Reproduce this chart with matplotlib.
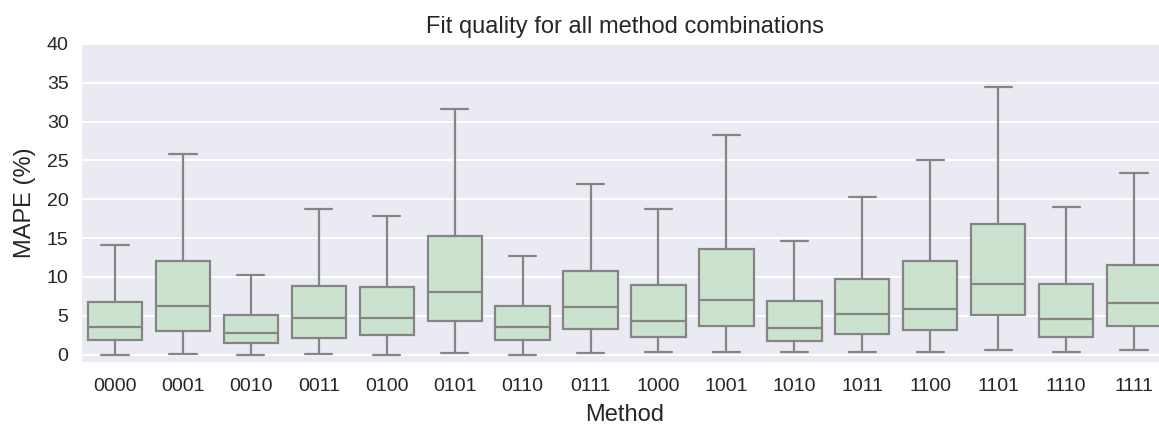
import matplotlib
matplotlib.use("Agg")
import matplotlib.pyplot as plt
import seaborn as sns

methods = ["0000", "0001", "0010", "0011", "0100", "0101", "0110", "0111",
           "1000", "1001", "1010", "1011", "1100", "1101", "1110", "1111"]

whisker_low = [0.0, 0.1, 0.0, 0.1, 0.0, 0.17, 0.0, 0.17,
               0.39, 0.39, 0.35, 0.35, 0.39, 0.64, 0.39, 0.64]
q1 = [1.9, 3.05, 1.47, 2.19, 2.57, 4.38, 1.89, 3.3,
      2.24, 3.73, 1.8, 2.7, 3.22, 5.15, 2.32, 3.73]
median = [3.5, 6.3, 2.75, 4.68, 4.76, 8.03, 3.52, 6.18,
          4.38, 7.08, 3.4, 5.28, 5.92, 9.1, 4.63, 6.6]
q3 = [6.8, 12.1, 5.07, 8.84, 8.7, 15.3, 6.27, 10.8,
      8.93, 13.64, 6.9, 9.74, 12.0, 16.8, 9.1, 11.55]
whisker_high = [14.1, 25.8, 10.3, 18.7, 17.9, 31.6, 12.7, 21.97,
                18.75, 28.3, 14.6, 20.3, 25.1, 34.4, 19.0, 23.35]

sns.set_style("darkgrid")
plt.rcParams["font.family"] = ["Liberation Sans", "DejaVu Sans"]

stats = []
for i in range(len(methods)):
    stats.append({"label": methods[i], "whislo": whisker_low[i], "q1": q1[i],
                  "med": median[i], "q3": q3[i], "whishi": whisker_high[i],
                  "fliers": []})

fig = plt.figure(figsize=(11.59, 4.25), dpi=100)
ax = fig.add_axes([0.0699, 0.1475, 0.9379, 0.749])

line = "#858585"
ax.bxp(stats, positions=range(len(methods)), widths=0.8, capwidths=0.4,
       patch_artist=True, showfliers=False,
       boxprops=dict(facecolor="#cbe2cf", edgecolor=line, linewidth=1.6),
       medianprops=dict(color=line, linewidth=1.6),
       whiskerprops=dict(color=line, linewidth=1.6),
       capprops=dict(color=line, linewidth=1.6))

ax.set_xlim(-0.5, 15.5)
ax.set_ylim(-1, 40)
ax.set_yticks(range(0, 41, 5))
ax.xaxis.grid(False)
ax.yaxis.grid(True, color="white", linewidth=1.5)
ax.tick_params(axis="both", labelsize=14, length=0, colors="#262626")
ax.tick_params(axis="x", pad=11)
ax.tick_params(axis="y", pad=9)
ax.set_title("Fit quality for all method combinations", fontsize=17,
             color="#262626", pad=8)
ax.set_xlabel("Method", fontsize=17, color="#262626", labelpad=7)
ax.set_ylabel("MAPE (%)", fontsize=17, color="#262626", labelpad=8)

fig.savefig("out.png", dpi=100)
